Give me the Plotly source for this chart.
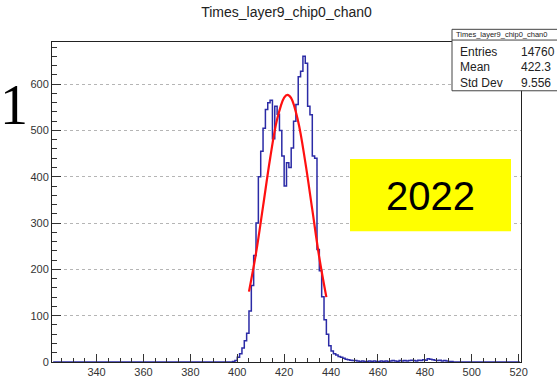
import plotly.graph_objects as go

# ---- data ----
bin_lo = 321          # first bin lower edge, 1-unit bins up to 521
bin_width = 1
counts = (
    [0] * 77 +                                   # 321 .. 397
    [1, 3,                                        # 398, 399
     10, 18, 30, 46, 62, 110, 165, 230, 300, 400,  # 400 .. 409
     455, 505, 545, 560, 565, 482, 552, 535, 500, 445,  # 410 .. 419
     380, 430, 420, 462, 520, 556, 616, 628, 660, 645,  # 420 .. 429
     552, 534, 445, 440, 243, 197, 141, 91, 60, 35,     # 430 .. 439
     24, 18, 15, 12, 10, 8, 6, 5, 4, 3,                 # 440 .. 449
     3, 2, 1, 2, 1, 1, 2, 1, 2, 1,                      # 450 .. 459
     1, 2, 1, 2, 1, 2, 3, 2, 1, 3,                      # 460 .. 469
     2, 3, 2, 3, 4, 3, 2, 4, 3, 5,                      # 470 .. 479
     4, 7, 6, 5, 4, 3, 4, 2, 3, 2,                      # 480 .. 489
     1, 1] +                                          # 490, 491
    [0] * 29                                      # 492 .. 520
)
fit_x = [405, 408, 411, 414, 417, 420, 421.4, 423, 426, 429, 432, 435, 438]
fit_y = [152, 235, 336, 439, 524, 571, 577, 570, 519, 432, 329, 225, 140]

x_ticks = [340, 360, 380, 400, 420, 440, 460, 480, 500, 520]
y_ticks = [0, 100, 200, 300, 400, 500, 600]

title = "Times_layer9_chip0_chan0"
stats_labels = ["Entries", "Mean", "Std Dev"]
stats_values = ["14760", "422.3", "9.556"]
year_label = "2022"
side_label = "1"

centers = [bin_lo + bin_width * (i + 0.5) for i in range(len(counts))]

fig = go.Figure()
fig.add_trace(go.Scatter(
    x=centers, y=counts, mode="lines", line_shape="hvh",
    line=dict(color="#2b2ba6", width=1.5), hoverinfo="skip", showlegend=False))
fig.add_trace(go.Scatter(
    x=fit_x, y=fit_y, mode="lines", line_shape="spline",
    line=dict(color="#ff1010", width=2.2), hoverinfo="skip", showlegend=False))

L, R, T, B = 52, 521, 42, 370
W, H = 557, 390
def px(xp):
    return (xp - L) / (R - L)
def py(yp):
    return (B - yp) / (B - T)

font_main = "Liberation Sans, Arial, Helvetica, sans-serif"

fig.update_layout(
    width=W, height=H,
    margin=dict(l=L, r=W - R, t=T, b=H - B),
    paper_bgcolor="white", plot_bgcolor="white",
    font=dict(family=font_main, color="#222", size=11),
    title=dict(text=title, x=(L + R) / 2 / W, xanchor="center",
               y=1 - 12 / H, yanchor="middle",
               font=dict(size=14, color="#222", family=font_main)),
    showlegend=False,
)
fig.update_xaxes(
    range=[bin_lo, bin_lo + bin_width * len(counts)],
    tickmode="array", tickvals=x_ticks, ticktext=[str(v) for v in x_ticks],
    ticks="inside", ticklen=8, tickcolor="#333", tickwidth=1,
    minor=dict(ticks="inside", ticklen=4, dtick=5, tick0=340, tickcolor="#333", showgrid=False),
    showgrid=False, zeroline=False,
    showline=True, linecolor="#222", linewidth=1, mirror=True,
    tickfont=dict(size=11, color="#333"),
)
fig.update_yaxes(
    range=[0, 691],
    tickmode="array", tickvals=y_ticks, ticktext=[str(v) for v in y_ticks],
    ticks="inside", ticklen=9, tickcolor="#333", tickwidth=1,
    minor=dict(ticks="inside", ticklen=5, dtick=20, tick0=0, tickcolor="#333", showgrid=False),
    showgrid=True, gridcolor="#b5b5b5", griddash="dot", gridwidth=1,
    zeroline=False,
    showline=True, linecolor="#222", linewidth=1, mirror=True,
    tickfont=dict(size=11, color="#333"),
)

# yellow "2022" box
fig.add_shape(type="rect", xref="paper", yref="paper",
              x0=px(350), x1=px(511), y0=py(236), y1=py(162),
              fillcolor="#ffff00", line=dict(width=0), layer="above")
fig.add_annotation(xref="paper", yref="paper", x=px(430), y=py(200),
                   text=year_label, showarrow=False, xanchor="center", yanchor="middle",
                   font=dict(size=40, color="black", family=font_main))

# stats box
fig.add_shape(type="rect", xref="paper", yref="paper",
              x0=px(452), x1=px(600), y0=py(92), y1=py(29),
              fillcolor="white", line=dict(color="#444", width=1), layer="above")
fig.add_shape(type="line", xref="paper", yref="paper",
              x0=px(452), x1=px(600), y0=py(40), y1=py(40),
              line=dict(color="#444", width=1), layer="above")
fig.add_annotation(xref="paper", yref="paper", x=px(454), y=py(34.5),
                   text=title, showarrow=False, xanchor="left", yanchor="middle",
                   font=dict(size=7.5, color="#222", family=font_main))
for i, (lab, val) in enumerate(zip(stats_labels, stats_values)):
    yy = py(52 + 16 * i)
    fig.add_annotation(xref="paper", yref="paper", x=px(458), y=yy, text=lab,
                       showarrow=False, xanchor="left", yanchor="middle",
                       font=dict(size=12, color="#222", family=font_main))
    fig.add_annotation(xref="paper", yref="paper", x=px(519), y=yy, text=val,
                       showarrow=False, xanchor="left", yanchor="middle",
                       font=dict(size=12, color="#222", family=font_main))

# large serif "1" on the left
fig.add_annotation(xref="paper", yref="paper", x=px(14), y=py(107),
                   text=side_label, showarrow=False, xanchor="center", yanchor="middle",
                   font=dict(size=56, color="black", family="Liberation Serif, Times New Roman, serif"))

fig.write_html("out.html", config={"displayModeBar": False},
               post_script="document.body.style.margin='0';document.body.style.padding='0';")
